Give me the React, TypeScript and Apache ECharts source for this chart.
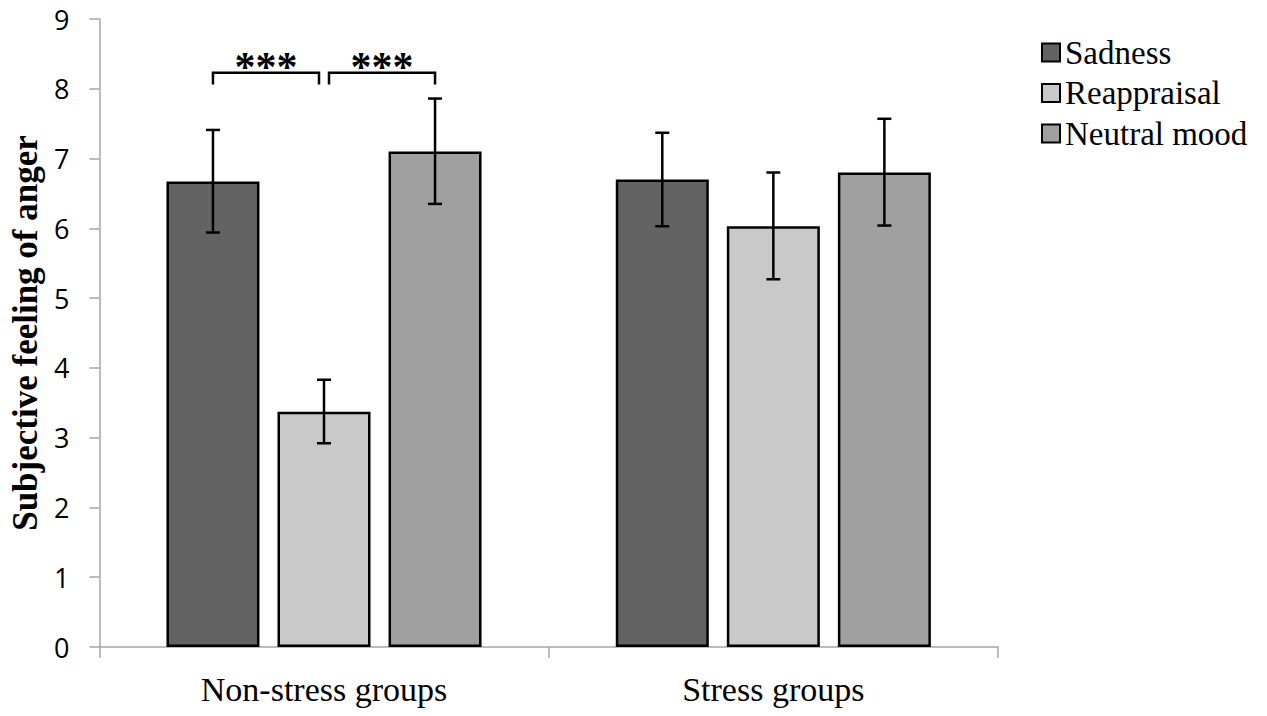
import React, { useEffect, useRef } from "react";
import * as echarts from "echarts";

const categories = ["Non-stress groups", "Stress groups"];
const seriesNames = ["Sadness", "Reappraisal", "Neutral mood"];
const sadness = [6.67, 6.7];
const reappraisal = [3.37, 6.03];
const neutral = [7.1, 6.8];
const sadnessErr = [
  [5.94, 7.41],
  [6.03, 7.37],
];
const reappraisalErr = [
  [2.92, 3.83],
  [5.27, 6.8],
];
const neutralErr = [
  [6.35, 7.86],
  [6.04, 7.57],
];
// [categoryIndex, fromSeries, toSeries, yLow, yHigh, label]
const brackets = [
  [0, 0, 1, 8.06, 8.23, "***"],
  [0, 1, 2, 8.06, 8.23, "***"],
];
const yTicks = { min: 0, max: 9, interval: 1 };

const colors = ["#636363", "#c9c9c9", "#a0a0a0"];
const BAR_W = 93;
const BAR_GAP = 0.194;
const STEP = BAR_W * (1 + BAR_GAP);

export default function App() {
  const ref = useRef<HTMLDivElement>(null);
  useEffect(() => {
    if (!ref.current) return;
    const chart = echarts.init(ref.current, undefined, { renderer: "svg" });
    const values = [sadness, reappraisal, neutral];
    const errs = [sadnessErr, reappraisalErr, neutralErr];
    const errData: number[][] = [];
    errs.forEach((e, k) =>
      e.forEach((pair, c) => errData.push([c, pair[0], pair[1], k]))
    );
    const serif = '"Liberation Serif", "Times New Roman", serif';
    const option: any = {
      animation: false,
      backgroundColor: "#ffffff",
      grid: { left: 95, right: 269, top: 19, bottom: 69, containLabel: false },
      legend: {
        orient: "vertical",
        left: 1036,
        top: 31,
        itemWidth: 18,
        itemHeight: 18,
        itemGap: 7.5,
        icon: "rect",
        data: seriesNames,
        textStyle: {
          fontFamily: serif,
          fontSize: 33,
          color: "#000",
        },
      },
      xAxis: {
        type: "category",
        data: categories,
        axisLine: { show: true, lineStyle: { color: "#a6a6a6", width: 1.5 } },
        axisTick: { show: true, length: 11, lineStyle: { color: "#a6a6a6", width: 1.5 } },
        axisLabel: { fontFamily: serif, fontSize: 34, color: "#000", margin: 25 },
        splitLine: { show: false },
      },
      yAxis: {
        type: "value",
        min: yTicks.min,
        max: yTicks.max,
        interval: yTicks.interval,
        name: "Subjective feeling of anger",
        nameLocation: "middle",
        nameGap: 56,
        nameTextStyle: {
          fontFamily: serif,
          fontSize: 35,
          fontWeight: "bold",
          color: "#000",
        },
        axisLine: { show: true, lineStyle: { color: "#a6a6a6", width: 1.5 } },
        axisTick: { show: true, length: 10, lineStyle: { color: "#a6a6a6", width: 1.5 } },
        axisLabel: {
          fontFamily: '"Open Sans", sans-serif',
          fontSize: 27,
          color: "#000",
          margin: 30,
        },
        splitLine: { show: false },
      },
      series: [
        ...seriesNames.map((name, k) => ({
          name,
          type: "bar",
          data: values[k],
          barWidth: BAR_W,
          barGap: BAR_GAP * 100 + "%",
          itemStyle: { color: colors[k], borderColor: "#000", borderWidth: 2.5 },
        })),
        {
          type: "custom",
          name: "errors",
          data: errData,
          encode: { x: 0, y: [1, 2] },
          z: 10,
          renderItem: (params: any, api: any) => {
            const cat = api.value(0);
            const k = api.value(3);
            const lo = api.coord([cat, api.value(1)]);
            const hi = api.coord([cat, api.value(2)]);
            const x = lo[0] + (k - 1) * STEP;
            const cap = 7;
            const style = { stroke: "#000", lineWidth: 2.5 };
            return {
              type: "group",
              children: [
                { type: "line", shape: { x1: x, y1: lo[1], x2: x, y2: hi[1] }, style },
                { type: "line", shape: { x1: x - cap, y1: lo[1], x2: x + cap, y2: lo[1] }, style },
                { type: "line", shape: { x1: x - cap, y1: hi[1], x2: x + cap, y2: hi[1] }, style },
              ],
            };
          },
        },
        {
          type: "custom",
          name: "brackets",
          data: brackets,
          encode: { x: 0, y: [3, 4] },
          z: 10,
          renderItem: (params: any, api: any) => {
            const b = brackets[params.dataIndex];
            const cat = b[0] as number;
            const from = b[1] as number;
            const to = b[2] as number;
            const lo = api.coord([cat, b[3]]);
            const hi = api.coord([cat, b[4]]);
            const inset = 5;
            let x1 = lo[0] + (from - 1) * STEP;
            let x2 = lo[0] + (to - 1) * STEP;
            if (from === 1) x1 += inset;
            if (to === 1) x2 -= inset;
            const style = { stroke: "#000", lineWidth: 2.5, fill: "none" };
            return {
              type: "group",
              children: [
                {
                  type: "polyline",
                  shape: {
                    points: [
                      [x1, lo[1]],
                      [x1, hi[1]],
                      [x2, hi[1]],
                      [x2, lo[1]],
                    ],
                  },
                  style,
                },
                {
                  type: "text",
                  x: (x1 + x2) / 2,
                  y: hi[1] - 6,
                  style: {
                    text: b[5],
                    fontFamily: serif,
                    fontSize: 42,
                    fontWeight: "bold",
                    fill: "#000",
                    align: "center",
                    verticalAlign: "middle",
                  },
                },
              ],
            };
          },
        },
      ],
    };
    chart.setOption(option);
    return () => chart.dispose();
  }, []);
  return <div ref={ref} style={{ width: 1267, height: 716, margin: -8 }} />;
}
